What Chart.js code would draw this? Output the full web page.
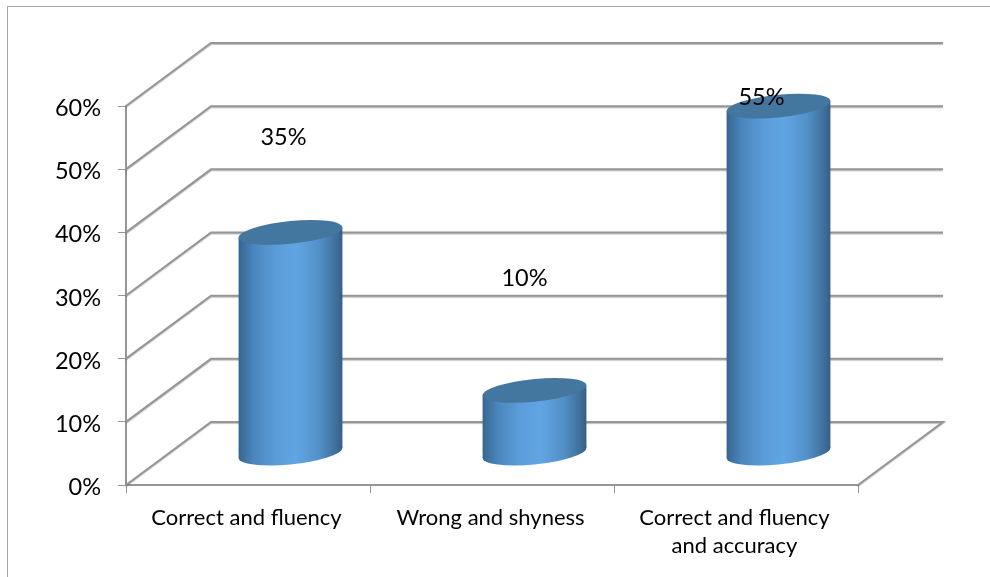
<!DOCTYPE html>
<html>
<head>
<meta charset="utf-8">
<title>Correct and fluency</title>
<script src="https://cdn.jsdelivr.net/npm/chart.js@4"></script>
<style>
    html, body { margin: 0; padding: 0; background: #fff; overflow: hidden; }
    #wrap { position: relative; width: 990px; height: 577px; }
    #frame { position: absolute; left: 7px; top: 6px; right: 0; bottom: 0;
             border-top: 1px solid #a6a6a6; border-left: 1px solid #a6a6a6; }
    canvas { position: absolute; left: 0; top: 0; }
</style>
</head>
<body>
<div id="wrap">
    <div id="frame"></div>
    <canvas id="cylChart" width="990" height="577"></canvas>
</div>
<script>
const categories = ["Correct and fluency", "Wrong and shyness", ["Correct and fluency", "and accuracy"]];
const values = [35, 10, 55];
const yTicks = [0, 10, 20, 30, 40, 50, 60];

// depth of the 3d box, in pixels
const DEPTH_X = 85;
const DEPTH_Y = 63;
// cap ellipse of the cylinders: height and shear
const CAP_RY = 11.4;
const CAP_SHEAR = -0.096;
const LINE_COLOR = '#969696';
// hand placed value labels, relative to the cylinder top
const labelNudge = [[-7, -95], [-10, -112], [-17, -9]];

function cylGradient(ctx, cx, half) {
    const g = ctx.createLinearGradient(cx - half, 0, cx + half, 0);
    g.addColorStop(0, '#37658f');
    g.addColorStop(0.14, '#4a85bc');
    g.addColorStop(0.35, '#5a9cd8');
    g.addColorStop(0.55, '#60a6e4');
    g.addColorStop(0.78, '#5290c8');
    g.addColorStop(0.93, '#41719c');
    g.addColorStop(1, '#375f85');
    return g;
}

function fillCap(ctx, el, y) {
    ctx.save();
    ctx.transform(1, CAP_SHEAR, 0, 1, 0, y - CAP_SHEAR * el.x);
    ctx.beginPath();
    ctx.ellipse(el.x, 0, el.width / 2, CAP_RY, 0, 0, Math.PI * 2);
    ctx.restore();
    ctx.fill();
}

function sidePath(ctx, el) {
    const h = el.width / 2;
    ctx.moveTo(el.x - h, el.y - CAP_SHEAR * h);
    ctx.lineTo(el.x + h, el.y + CAP_SHEAR * h);
    ctx.lineTo(el.x + h, el.base + CAP_SHEAR * h);
    ctx.lineTo(el.x - h, el.base - CAP_SHEAR * h);
    ctx.closePath();
}

// back wall, side wall and floor, drawn from the value axis
const boxPlugin = {
    id: 'box3d',
    beforeDatasetsDraw(chart) {
        const ctx = chart.ctx;
        const { left, right } = chart.chartArea;
        const y = chart.scales.y;
        ctx.save();
        ctx.lineJoin = 'miter';
        ctx.strokeStyle = LINE_COLOR;
        ctx.lineWidth = 2;
        ctx.shadowColor = 'rgba(0,0,0,0.25)';
        ctx.shadowOffsetY = 1;
        ctx.shadowBlur = 1;
        yTicks.forEach(t => {
            const py = y.getPixelForValue(t);
            ctx.beginPath();
            ctx.moveTo(left, py);
            ctx.lineTo(left + DEPTH_X, py - DEPTH_Y);
            ctx.lineTo(right + DEPTH_X, py - DEPTH_Y);
            if (t === 0) ctx.lineTo(right, py);
            ctx.stroke();
        });
        ctx.restore();
    }
};

// the bars sit halfway into the box and get round caps
const cylinderPlugin = {
    id: 'cylinder',
    beforeDatasetDraw(chart, args) {
        const ctx = chart.ctx;
        const els = args.meta.data;
        ctx.save();
        ctx.translate(DEPTH_X / 2, -DEPTH_Y / 2);
        els.forEach(el => {
            ctx.fillStyle = cylGradient(ctx, el.x, el.width / 2);
            fillCap(ctx, el, el.base);
            ctx.beginPath();
            sidePath(ctx, el);
            ctx.fill();
        });
        // cut the square corners of the bars along the caps
        ctx.beginPath();
        els.forEach(el => sidePath(ctx, el));
        ctx.clip();
    },
    afterDatasetDraw(chart, args) {
        const ctx = chart.ctx;
        ctx.restore();
        ctx.save();
        ctx.translate(DEPTH_X / 2, -DEPTH_Y / 2);
        args.meta.data.forEach(el => {
            ctx.fillStyle = '#44779f';
            fillCap(ctx, el, el.y);
        });
        ctx.fillStyle = '#000';
        ctx.font = '23.5px Lato';
        ctx.textAlign = 'center';
        ctx.textBaseline = 'middle';
        args.meta.data.forEach((el, i) => {
            ctx.fillText(values[i] + '%', el.x + labelNudge[i][0], el.y + labelNudge[i][1]);
        });
        ctx.restore();
    }
};

new Chart(document.getElementById('cylChart'), {
    type: 'bar',
    data: {
        labels: categories,
        datasets: [{
            data: values,
            barPercentage: 1,
            categoryPercentage: 0.425,
            borderWidth: 0,
            backgroundColor(c) {
                const x = c.chart.scales.x;
                const half = x ? x.width / categories.length * 0.425 / 2 : NaN;
                const cx = x ? x.getPixelForValue(c.dataIndex) : NaN;
                if (!Number.isFinite(half) || !Number.isFinite(cx)) return '#5a9cd8';
                return cylGradient(c.chart.ctx, cx, half);
            }
        }]
    },
    options: {
        responsive: false,
        animation: false,
        layout: { padding: { top: 106, right: 132 } },
        plugins: { legend: { display: false }, tooltip: { enabled: false } },
        scales: {
            x: {
                afterFit(s) { s.height = 92; },
                border: { color: LINE_COLOR, width: 2 },
                grid: { drawOnChartArea: false, color: LINE_COLOR, tickLength: 8 },
                ticks: {
                    color: '#000',
                    font: { family: 'Lato', size: 22, lineHeight: 1.27 },
                    padding: 11,
                    labelOffset: -1.5,
                    maxRotation: 0
                }
            },
            y: {
                min: 0,
                max: 60,
                afterFit(s) { s.width = 126; },
                afterBuildTicks(s) { s.ticks = yTicks.map(v => ({ value: v })); },
                border: { color: LINE_COLOR, width: 2 },
                grid: { drawOnChartArea: false, color: LINE_COLOR, tickLength: 8 },
                ticks: {
                    color: '#000',
                    font: { family: 'Lato', size: 23.5 },
                    padding: 17,
                    labelOffset: 2.5,
                    callback: v => v + '%'
                }
            }
        }
    },
    plugins: [boxPlugin, cylinderPlugin]
});
</script>
</body>
</html>
